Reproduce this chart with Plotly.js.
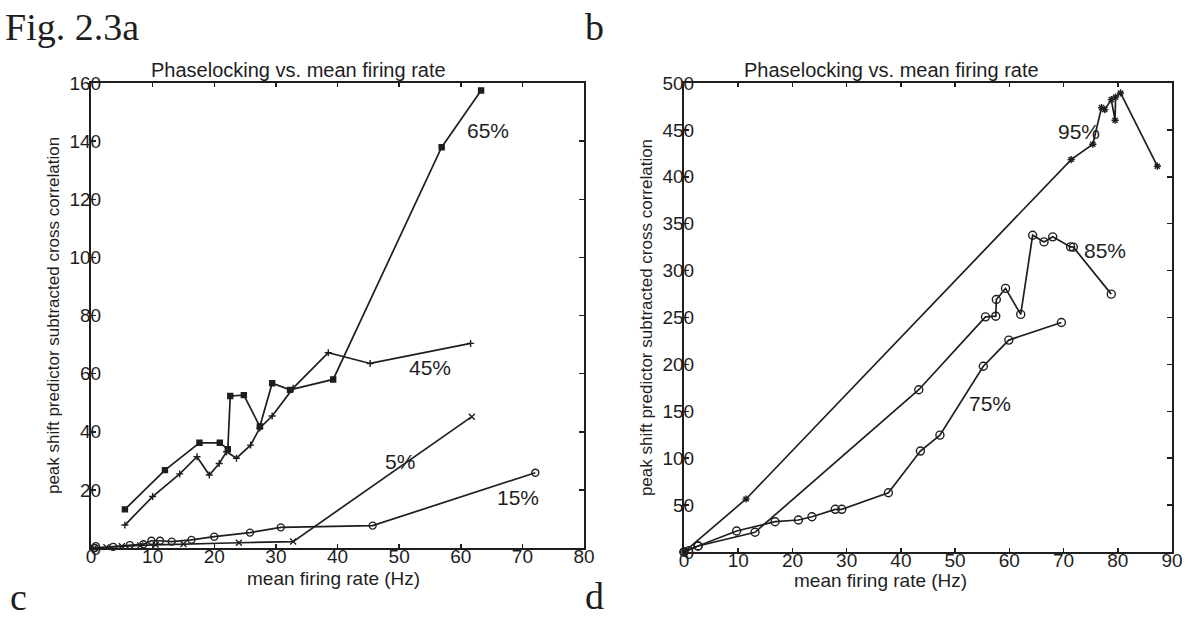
<!DOCTYPE html>
<html>
<head>
<meta charset="utf-8">
<script src="https://cdn.plot.ly/plotly-3.0.1.min.js"></script>
<style>html,body{margin:0;padding:0;background:#fff;}#chart{width:1194px;height:621px;}</style>
</head>
<body>
<div id="chart"></div>
<script>
// ---- Panel a (left): phaselocking vs mean firing rate ----
const a65_x = [5.5, 12.0, 17.6, 20.9, 22.2, 22.6, 24.8, 27.4, 29.4, 32.3, 39.3, 56.9, 63.3];
const a65_y = [13.3, 26.8, 36.2, 36.2, 34.0, 52.3, 52.6, 41.8, 56.7, 54.4, 58.0, 137.9, 157.4];
const a45_x = [5.5, 10.0, 14.4, 17.2, 19.2, 20.8, 22.0, 23.6, 25.9, 27.4, 29.4, 32.8, 38.5, 45.3, 61.6];
const a45_y = [7.9, 17.7, 25.5, 31.4, 25.1, 29.1, 33.1, 30.9, 35.4, 41.3, 45.4, 55.0, 67.2, 63.5, 70.4];
const a5_x = [0.5, 2.5, 5.0, 8.0, 10.5, 15.0, 24.0, 32.8, 61.8];
const a5_y = [0.0, 0.3, 0.6, 0.9, 1.1, 1.4, 1.8, 2.2, 45.2];
const a15_x = [0.6, 3.6, 6.3, 8.5, 9.8, 11.2, 13.1, 16.3, 20.0, 25.8, 30.8, 45.7, 72.1];
const a15_y = [0.0, 0.4, 1.0, 1.3, 2.5, 2.5, 2.2, 2.8, 3.9, 5.3, 7.1, 7.7, 25.9];
const a_labels = ["65%", "45%", "5%", "15%"];
const a_label_x = [64.4, 55.0, 50.2, 69.3];
const a_label_y = [143.5, 62.0, 29.6, 17.5];
const a_xticks = [0, 10, 20, 30, 40, 50, 60, 70, 80];
const a_yticks = [0, 20, 40, 60, 80, 100, 120, 140, 160];

// ---- Panel b (right) ----
const b95_x = [0, 11.45, 71.4, 75.4, 77.0, 77.6, 78.8, 79.5, 79.6, 80.5, 87.3];
const b95_y = [0, 56.5, 418.4, 434.7, 473.8, 471.6, 482.3, 460.3, 485.0, 489.4, 411.3];
const b85_x = [0, 2.6, 13.1, 43.3, 55.6, 57.5, 57.6, 59.3, 62.1, 64.3, 66.4, 68.0, 71.3, 71.8, 78.8];
const b85_y = [0, 6.4, 21.0, 173.0, 250.7, 251.4, 269.2, 281.0, 253.3, 337.7, 330.6, 336.0, 325.3, 325.0, 274.9];
const b75_x = [0, 2.6, 9.7, 16.8, 21.1, 23.6, 27.9, 29.1, 37.7, 43.6, 47.2, 55.2, 59.9, 69.6];
const b75_y = [0, 6.4, 22.4, 32.3, 34.1, 37.6, 45.5, 45.5, 63.2, 107.6, 124.6, 198.0, 225.9, 244.7];
const b_labels = ["95%", "85%", "75%"];
const b_label_x = [72.8, 77.6, 56.5];
const b_label_y = [448.5, 321.7, 158.7];
const b_xticks = [0, 10, 20, 30, 40, 50, 60, 70, 80, 90];
const b_yticks = [0, 50, 100, 150, 200, 250, 300, 350, 400, 450, 500];

const INK = '#1e1e1e';
const FONT = 'Liberation Sans, Arial, sans-serif';
const SERIF = 'Liberation Serif, Times New Roman, serif';

function tr(x, y, xa, ya, sym, size) {
  return {
    x: x, y: y, xaxis: xa, yaxis: ya, type: 'scatter', mode: 'lines+markers',
    line: {color: INK, width: 1.7},
    marker: {symbol: sym, size: size, color: INK, line: {color: INK, width: 1.4}},
    showlegend: false, hoverinfo: 'x+y', cliponaxis: false
  };
}

const data = [
  tr(a65_x, a65_y, 'x', 'y', 'square', 5),
  tr(a45_x, a45_y, 'x', 'y', 'cross-thin', 5),
  tr(a5_x, a5_y, 'x', 'y', 'x-thin', 6),
  tr(a15_x, a15_y, 'x', 'y', 'circle-open', 7),
  tr(b95_x, b95_y, 'x2', 'y2', 'asterisk', 6),
  tr(b85_x, b85_y, 'x2', 'y2', 'circle-open', 8),
  tr(b75_x, b75_y, 'x2', 'y2', 'circle-open', 8)
];

function xax(domain, range, ticks, anchor) {
  return {
    domain: domain, range: range, anchor: anchor, tickvals: ticks,
    showline: true, linecolor: INK, linewidth: 2, mirror: 'ticks',
    ticks: 'inside', ticklen: 4, tickwidth: 1.5, tickcolor: INK,
    showgrid: false, zeroline: false,
    ticklabelstandoff: -10,
    tickfont: {family: FONT, size: 19, color: INK}
  };
}
function yax(domain, range, ticks, anchor) {
  return {
    domain: domain, range: range, anchor: anchor, tickvals: ticks,
    showline: true, linecolor: INK, linewidth: 2, mirror: 'ticks',
    ticks: 'inside', ticklen: 5, tickwidth: 1.5, tickcolor: INK,
    showgrid: false, zeroline: false,
    ticklabelstandoff: -16,
    tickfont: {family: FONT, size: 19, color: INK},
    title: {text: 'peak shift predictor subtracted cross correlation',
            font: {family: FONT, size: 17, color: INK}, standoff: 6}
  };
}

const annotations = [];
a_labels.forEach((t, i) => annotations.push({
  text: t, x: a_label_x[i], y: a_label_y[i], xref: 'x', yref: 'y',
  xanchor: 'center', yanchor: 'middle',
  showarrow: false, font: {family: FONT, size: 21, color: INK}
}));
b_labels.forEach((t, i) => annotations.push({
  text: t, x: b_label_x[i], y: b_label_y[i], xref: 'x2', yref: 'y2',
  xanchor: 'center', yanchor: 'middle',
  showarrow: false, font: {family: FONT, size: 21, color: INK}
}));
const panelTitles = [['Phaselocking vs. mean firing rate', 298 / 1194], ['Phaselocking vs. mean firing rate', 891 / 1194]];
panelTitles.forEach(p => annotations.push({
  text: p[0], x: p[1], y: 1 - 70 / 621, xref: 'paper', yref: 'paper',
  xanchor: 'center', yanchor: 'middle',
  showarrow: false, font: {family: FONT, size: 20, color: INK}
}));
const xTitles = [['mean firing rate (Hz)', 333 / 1194, 1 - 578 / 621], ['mean firing rate (Hz)', 880 / 1194, 1 - 580 / 621]];
xTitles.forEach(p => annotations.push({
  text: p[0], x: p[1], y: p[2], xref: 'paper', yref: 'paper',
  xanchor: 'center', yanchor: 'middle',
  showarrow: false, font: {family: FONT, size: 19, color: INK}
}));
const figLetters = [['Fig. 2.3a', 3 / 1194, 1 - 27 / 621], ['b', 583 / 1194, 1 - 27 / 621],
                    ['c', 8 / 1194, 1 - 597 / 621], ['d', 583 / 1194, 1 - 596 / 621]];
figLetters.forEach(f => annotations.push({
  text: f[0], x: f[1], y: f[2], xref: 'paper', yref: 'paper', xanchor: 'left', yanchor: 'middle',
  showarrow: false, font: {family: SERIF, size: 38, color: INK}
}));

const layout = {
  width: 1194, height: 621,
  margin: {l: 0, r: 0, t: 0, b: 0},
  paper_bgcolor: '#ffffff', plot_bgcolor: '#ffffff',
  showlegend: false,
  xaxis: xax([91 / 1194, 584 / 1194], [0, 80], a_xticks, 'y'),
  yaxis: yax([1 - 548 / 621, 1 - 83 / 621], [0, 160], a_yticks, 'x'),
  xaxis2: xax([684 / 1194, 1172 / 1194], [0, 90], b_xticks, 'y2'),
  yaxis2: yax([1 - 552 / 621, 1 - 83 / 621], [0, 500], b_yticks, 'x2'),
  annotations: annotations
};

Plotly.newPlot('chart', data, layout, {displayModeBar: false, staticPlot: true});
</script>
</body>
</html>
